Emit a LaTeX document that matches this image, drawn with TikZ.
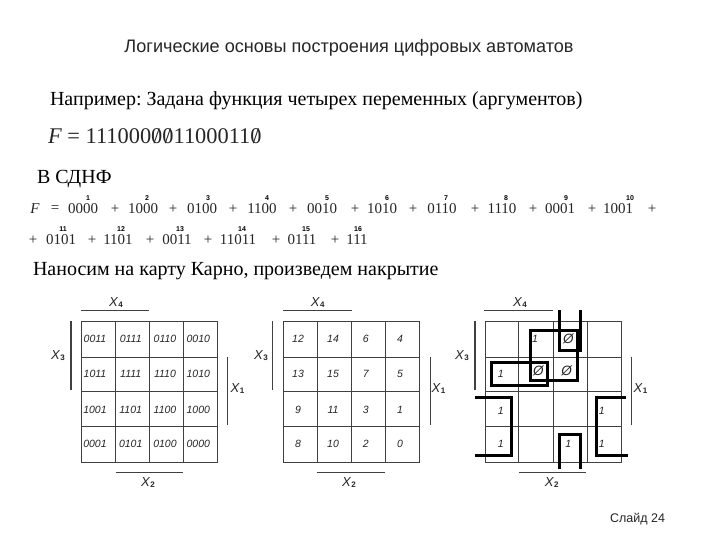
\documentclass[tikz,border=0pt]{standalone}
\usepackage{fontspec}
\setmainfont{Liberation Serif}
\setsansfont{Liberation Sans}
\frenchspacing
\newcommand{\fsz}[1]{\fontsize{#1}{#1}\selectfont}
\newcommand{\slz}{\ooalign{0\cr\hidewidth/\hidewidth\cr}}
\newcommand{\xlab}[1]{\textit{X}\raisebox{-1pt}{\fontsize{8}{8}\selectfont\bfseries #1}}
\tikzset{
  x=1pt,y=-1pt,
  every node/.style={inner sep=0pt,outer sep=0pt},
  titletext/.style={font=\sffamily\fsz{18.1},anchor=center,text=black!85},
  bodytext/.style={font=\fsz{20},anchor=west},
  term/.style={font=\fsz{15},anchor=center,text=black!85},
  idx/.style={font=\sffamily\bfseries\fsz{7},anchor=center},
  cell/.style={font=\sffamily\itshape\fsz{10.5},anchor=center,text=black!85},
  slashcell/.style={font=\sffamily\itshape\fsz{13.5},anchor=center,text=black!85},
  varlab/.style={font=\sffamily\fsz{13},anchor=center,text=black!85},
  gridline/.style={draw=black!75,line width=0.9pt},
  varbar/.style={draw=black!75,line width=1.3pt},
  cover/.style={draw=black,line width=3pt,line join=miter},
  slidenum/.style={font=\sffamily\fsz{12.5},anchor=east,text=black!85}
}
\begin{document}
\begin{tikzpicture}
\useasboundingbox[fill=white] (0,0) rectangle (720,540);
\node[titletext] (title) at (349,48) {Логические основы построения цифровых автоматов};
\node[bodytext] (ex) at (50,101) {Например: Задана функция четырех переменных (аргументов)};
\node[font=\fsz{22.4},anchor=west,text=black!85] (fvec) at (48,136.5) {\textit{F} = 111000\slz\slz 1100011\slz};
\node[bodytext] (sdnf) at (37,179) {В СДНФ};
\node[bodytext] (kar) at (33,271) {Наносим на карту Карно, произведем накрытие};
% formula
\node[term,font=\itshape\fsz{15}] (fa) at (35,209) {F};
\foreach \px/\py/\ptxt in {55/209/=,83/209/0000,115/209/+,143/209/1000,173/209/+,202/209/0100,233/209/+,262/209/1100,293/209/+,322/209/0010,355/209/+,382/209/1010,413/209/+,442/209/0110,475/209/+,502/209/1110,533/209/+,560/209/0001,592/209/+,618/209/1001,652/209/+,
  33/240/+,61/240/0101,92/240/+,118/240/1101,150/240/+,177/240/0011,208/240/+,238/240/11011,276/240/+,302/240/0111,335/240/+,357/240/111}
  \node[term] (t\px-\py) at (\px,\py) {\ptxt};
\foreach \px/\py/\ptxt in {88/198/1,147/198/2,208/198/3,267/198/4,327/198/5,387/198/6,446/198/7,506/198/8,566/198/9,630/198/10,
  63/229/11,121/229/12,180/229/13,242/229/14,306/229/15,358/229/16}
  \node[idx] (i\px-\py) at (\px,\py) {\ptxt};
% map 1
\draw[gridline] (81.7,321) rectangle (217.7,462.7);
\foreach \cx in {115,149.3,183.3} \draw[gridline] (\cx,321) -- (\cx,462.7);
\foreach \ry in {357.7,391.7,426.7} \draw[gridline] (81.7,\ry) -- (217.7,\ry);
\foreach \px/\py/\ptxt in {95/339/0011,130.7/339/0111,165/339/0110,198.3/339/0010,
  95/374/1011,130.7/374/1111,165/374/1110,198.3/374/1010,
  95/410/1001,130.7/410/1101,165/410/1100,198.3/410/1000,
  95/444/0001,130.7/444/0101,165/444/0100,198.3/444/0000}
  \node[cell] (a\px-\py) at (\px,\py) {\ptxt};
\draw[varbar] (81.3,310.7) -- (149,310.7);
\draw[varbar] (71,321) -- (71,390);
\draw[varbar] (227.7,356.7) -- (227.7,425);
\draw[varbar] (115.7,472.7) -- (182.7,472.7);
\node[varlab] (ax4) at (116,303) {\xlab{4}};
\node[varlab] (ax3) at (58,355.7) {\xlab{3}};
\node[varlab] (ax1) at (237.5,389) {\xlab{1}};
\node[varlab] (ax2) at (148,483) {\xlab{2}};
% map 2
\draw[gridline] (283.3,321) rectangle (419,462.7);
\foreach \cx in {317,351.3,385.3} \draw[gridline] (\cx,321) -- (\cx,462.7);
\foreach \ry in {357.7,391.7,426.7} \draw[gridline] (283.3,\ry) -- (419,\ry);
\foreach \px/\py/\ptxt in {298/339/12,333/339/14,365.7/339/6,400/339/4,
  298/374/13,333/374/15,365.7/374/7,400/374/5,
  298/410/9,333/410/11,365.7/410/3,400/410/1,
  298/444/8,333/444/10,365.7/444/2,400/444/0}
  \node[cell] (b\px-\py) at (\px,\py) {\ptxt};
\draw[varbar] (283.3,310.7) -- (351.7,310.7);
\draw[varbar] (272.3,321) -- (272.3,390);
\draw[varbar] (430.3,356.7) -- (430.3,425);
\draw[varbar] (316.7,472.7) -- (384.7,472.7);
\node[varlab] (bx4) at (317.7,303) {\xlab{4}};
\node[varlab] (bx3) at (261,355.7) {\xlab{3}};
\node[varlab] (bx1) at (438.5,389) {\xlab{1}};
\node[varlab] (bx2) at (349,483) {\xlab{2}};
% map 3
\draw[gridline] (485,321) rectangle (621.7,462.7);
\foreach \cx in {518.3,553.3,587.3} \draw[gridline] (\cx,321) -- (\cx,462.7);
\foreach \ry in {357.7,391.7,426.7} \draw[gridline] (485,\ry) -- (621.7,\ry);
\foreach \px/\py/\ptxt in {535/339/1,500.7/374/1,
  500.7/410.7/1,601.7/410.7/1,500.7/444.3/1,568.3/444.3/1,601.7/444.3/1}
  \node[cell] (c\px-\py) at (\px,\py) {\ptxt};
\foreach \px/\py in {568.3/339,538.3/371,566.7/371}
  \node[slashcell] (d\px-\py) at (\px,\py) {Ø};
\draw[varbar] (484.3,310.7) -- (552.7,310.7);
\draw[varbar] (475,321) -- (475,390);
\draw[varbar] (631.7,356.7) -- (631.7,425);
\draw[varbar] (519.3,472.7) -- (586,472.7);
\node[varlab] (cx4) at (520,303) {\xlab{4}};
\node[varlab] (cx3) at (462,355.7) {\xlab{3}};
\node[varlab] (cx1) at (640.5,389) {\xlab{1}};
\node[varlab] (cx2) at (551.7,483) {\xlab{2}};
% covers
\draw[cover] (559.3,310) -- (559.3,350.7) -- (580.7,350.7) -- (580.7,310);
\draw[cover] (530,330.7) rectangle (577.3,380.7);
\draw[cover] (491.7,362.7) rectangle (547.3,385.3);
\draw[cover] (475,397.3) -- (511.7,397.3) -- (511.7,455.3) -- (475,455.3);
\draw[cover] (626,397.3) -- (596,397.3) -- (596,455.3) -- (627.7,455.3);
\draw[cover] (559.3,469.3) -- (559.3,434) -- (580.7,434) -- (580.7,469.3);
\node[slidenum] (sn) at (665,519.5) {Слайд 24};
\end{tikzpicture}
\end{document}
